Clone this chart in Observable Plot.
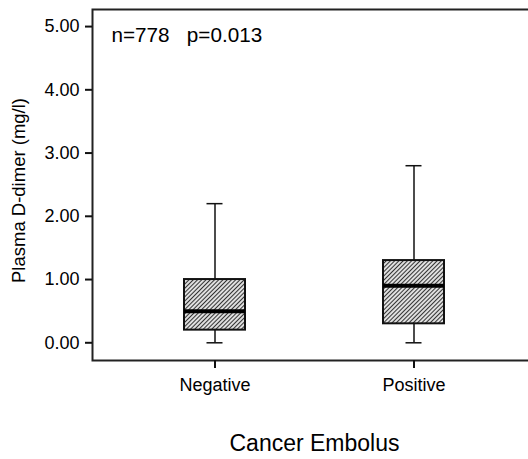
<!DOCTYPE html>
<html><head><meta charset="utf-8">
<script src="https://cdn.jsdelivr.net/npm/d3@7"></script>
<script src="https://cdn.jsdelivr.net/npm/@observablehq/plot@0.6"></script>
<style>html,body{margin:0;padding:0;background:#fff;overflow:hidden;} svg{display:block}</style>
</head><body><div id="chart"></div>
<script>
const categories = ["Negative", "Positive"];
const whiskerLow = [0.0, 0.0];
const q1 = [0.2, 0.3];
const median = [0.5, 0.9];
const q3 = [1.0, 1.3];
const whiskerHigh = [2.2, 2.8];
const yTicks = [0, 1, 2, 3, 4, 5];
const yDomain = [-0.28, 5.27];
const annotation = "n=778   p=0.013";
const yLabel = "Plasma D-dimer (mg/l)";
const xLabel = "Cancer Embolus";

const rows = categories.map((c, i) => ({cat: c, lo: whiskerLow[i], q1: q1[i], med: median[i], q3: q3[i], hi: whiskerHigh[i]}));
const font = "'Liberation Sans', Arial, Helvetica, sans-serif";
const ink = "#111";

const chart = Plot.plot({
  width: 528, height: 459,
  marginLeft: 92, marginRight: -2, marginTop: 9, marginBottom: 99,
  style: {fontFamily: font, fontSize: "18px", color: "#000", background: "#fff", overflow: "hidden"},
  x: {domain: categories, paddingInner: 0.694, paddingOuter: 0.446, align: 0.515, label: null},
  y: {domain: yDomain, label: null},
  marks: [
    Plot.frame({stroke: "#222", strokeWidth: 2}),
    Plot.axisY({ticks: yTicks, tickFormat: d3.format(".2f"), tickSize: 7, tickPadding: 6, stroke: ink, strokeWidth: 2, label: null, fill: "#000", fontSize: 18}),
    Plot.axisX({tickSize: 8, tickPadding: 10, stroke: ink, strokeWidth: 2, label: null, fill: "#000", fontSize: 18}),
    Plot.ruleX(rows, {x: "cat", y1: "lo", y2: "q1", stroke: ink, strokeWidth: 1.5}),
    Plot.ruleX(rows, {x: "cat", y1: "q3", y2: "hi", stroke: ink, strokeWidth: 1.5}),
    Plot.tickY(rows, {x: "cat", y: "lo", insetLeft: 22.5, insetRight: 22.5, stroke: ink, strokeWidth: 1.5}),
    Plot.tickY(rows, {x: "cat", y: "hi", insetLeft: 22.5, insetRight: 22.5, stroke: ink, strokeWidth: 1.5}),
    Plot.barY(rows, {x: "cat", y1: "q1", y2: "q3", fill: "url(#hatch)", stroke: ink, strokeWidth: 2}),
    Plot.tickY(rows, {x: "cat", y: "med", stroke: "#000", strokeWidth: 4}),
    Plot.text([annotation], {frameAnchor: "top-left", dx: 19, dy: 26, lineAnchor: "middle", textAnchor: "start", fontSize: 20.7, fill: "#000"}),
    Plot.text([yLabel], {frameAnchor: "left", dx: -73, dy: 5.5, rotate: -90, textAnchor: "middle", lineAnchor: "middle", fontSize: 18.5, fill: "#000"}),
    Plot.text([xLabel], {frameAnchor: "bottom", dx: 3, dy: 83, lineAnchor: "middle", fontSize: 23, fill: "#000"})
  ]
});

d3.select(chart).insert("defs", ":first-child").html(
  `<pattern id="hatch" width="3" height="3" patternUnits="userSpaceOnUse" patternTransform="rotate(45)">
     <rect width="3" height="3" fill="#f2f2f2"/>
     <line x1="1.5" y1="0" x2="1.5" y2="3" stroke="#333" stroke-width="1.2"/>
   </pattern>`);

document.getElementById("chart").appendChild(chart);
</script>
</body></html>
